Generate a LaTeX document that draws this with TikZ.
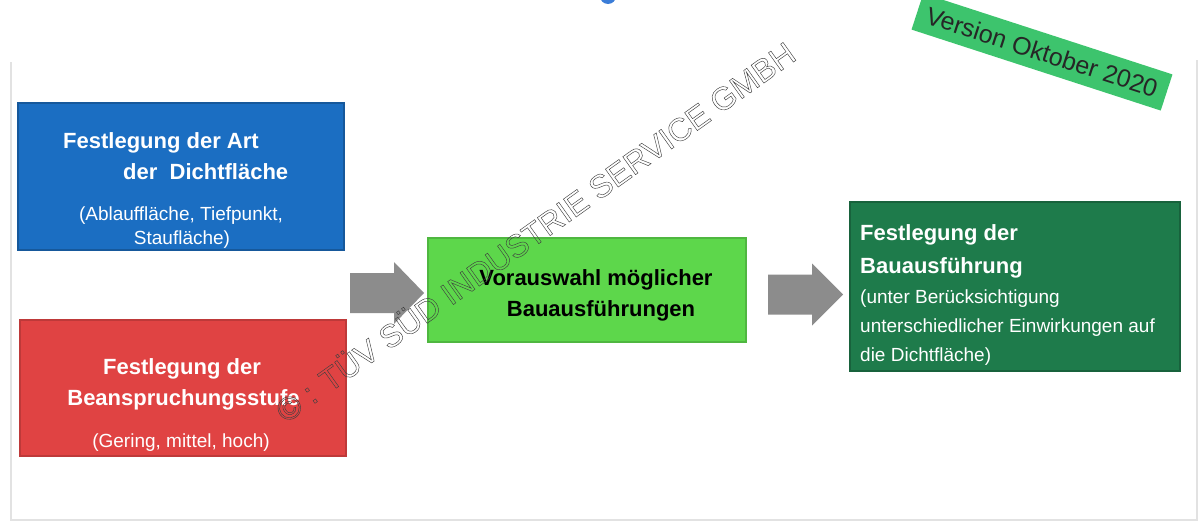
\documentclass[tikz,border=0pt]{standalone}
\usepackage{fontspec}
\setmainfont{Liberation Sans}
\definecolor{boxblue}{HTML}{1B6EC2}
\definecolor{boxred}{HTML}{E04343}
\definecolor{boxlgreen}{HTML}{5DD74B}
\definecolor{boxdgreen}{HTML}{1E7B4B}
\definecolor{arrowgray}{HTML}{8C8C8C}
\definecolor{badgegreen}{HTML}{3DC46D}
\definecolor{dotblue}{HTML}{3B7DD8}
\definecolor{framegray}{HTML}{E2E2E2}
\begin{document}
\begin{tikzpicture}[x=1pt,y=-1pt,
  box/.style={inner sep=0pt, outer sep=0pt, anchor=north west, line width=2pt},
  bt/.style={inner sep=0pt, text=white, font=\fontsize{22}{26}\selectfont\bfseries},
  nt/.style={inner sep=0pt, text=white, font=\fontsize{19}{23}\selectfont},
  flow/.style={fill=arrowgray},
  wmark/.style={inner sep=0pt, text=black!75, font=\fontsize{32}{36}\selectfont}
]
\useasboundingbox (0,0) rectangle (1202,522);
\fill[white] (0,0) rectangle (1202,522);
% faint frame
\draw[framegray, line width=1.5pt] (11,62) -- (11,520) -- (1197,520) -- (1197,60);
% blue dot at the top
\fill[dotblue] (608,-4) circle (8);

% boxes
\node[box, fill=boxblue, draw=boxblue!80!black, minimum width=326pt, minimum height=147pt] (blue) at (18,103) {};
\node[box, fill=boxred, draw=boxred!85!black, minimum width=326pt, minimum height=136pt] (red) at (20,320) {};
\node[box, fill=boxlgreen, draw=boxlgreen!85!black, minimum width=318pt, minimum height=104pt] (lgreen) at (428,238) {};
\node[box, fill=boxdgreen, draw=boxdgreen!80!black, minimum width=330pt, minimum height=169pt] (dgreen) at (850,202) {};

% block arrows between the boxes (start points)
\coordinate (aA) at (350,293);
\coordinate (aB) at (768,294.5);
\fill[flow] (aA) ++(0,-20) -- ++(44,0) -- ++(0,-11) -- ++(30,31) -- ++(-30,31) -- ++(0,-11) -- ++(-44,0) -- cycle;
\fill[flow] (aB) ++(0,-20) -- ++(44,0) -- ++(0,-11) -- ++(31,31) -- ++(-31,31) -- ++(0,-11) -- ++(-44,0) -- cycle;

% blue box text
\node[bt, anchor=base west] (blue1) at (63,148) {Festlegung der Art};
\node[bt, anchor=base west] (blue2) at (123,179) {der\ \ Dichtfläche};
\node[nt, anchor=base] (blue3) at (181,220) {(Ablauffläche, Tiefpunkt,};
\node[nt, anchor=base] (blue4) at (182,244) {Staufläche)};

% red box text
\node[bt, anchor=base] (red1) at (182,374) {Festlegung der};
\node[bt, anchor=base] (red2) at (183.5,405) {Beanspruchungsstufe};
\node[nt, anchor=base] (red3) at (181,447) {(Gering, mittel, hoch)};

% light green box text
\node[bt, text=black, anchor=base] (lg1) at (596,285) {Vorauswahl möglicher};
\node[bt, text=black, anchor=base] (lg2) at (601,316) {Bauausführungen};

% dark green box text
\node[bt, anchor=base west] (dg1) at (860,240) {Festlegung der};
\node[bt, anchor=base west] (dg2) at (860,273) {Bauausführung};
\node[nt, anchor=base west] (dg3) at (860,303) {(unter Berücksichtigung};
\node[nt, anchor=base west] (dg4) at (860,332) {unterschiedlicher Einwirkungen auf};
\node[nt, anchor=base west] (dg5) at (860,361) {die Dichtfläche)};

% version badge
\node[fill=badgegreen, rotate=-18, minimum width=262pt, minimum height=38pt,
  inner sep=0pt, text=black!85, font=\fontsize{25}{28}\selectfont] (badge) at (1042,52) {Version Oktober 2020};

% watermark
\node[wmark, rotate=35.5, anchor=base west] (wm) at (286,424)
  {\special{pdf:code 1 Tr 0.45 w}© : TÜV SÜD INDUSTRIE SERVICE GMBH\special{pdf:code 0 Tr}};
\end{tikzpicture}
\end{document}
